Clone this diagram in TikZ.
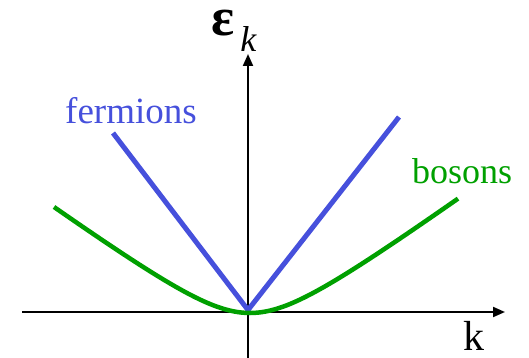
\documentclass[tikz,border=0pt]{standalone}
\usepackage{fontspec}
\setmainfont{Liberation Serif}
\usetikzlibrary{arrows.meta}

\definecolor{fermblue}{RGB}{70,80,220}
\definecolor{bosgreen}{RGB}{0,160,0}

\begin{document}
\begin{tikzpicture}[x=1pt, y=-1pt,
  >={Triangle[length=12pt,width=10pt]},
  axis/.style={->, line width=2pt},
  ferm/.style={line width=5pt, fermblue, line join=round},
  bos/.style={line width=4.5pt, bosgreen},
  lbl/.style={anchor=base west, inner sep=0pt},
]
  \useasboundingbox (0,0) rectangle (529,358);
  % axes
  \coordinate (o) at (248,312);
  \coordinate (xl) at (22,312);
  \coordinate (xr) at (505,312);
  \coordinate (yb) at (248,358);
  \coordinate (yt) at (248,54);
  \draw[axis] (xl) -- (xr);
  \draw[axis] (yb) -- (yt);
  % fermions: linear
  \coordinate (fl) at (113,133);
  \coordinate (fv) at (248,310);
  \coordinate (fr) at (399,117);
  \draw[ferm] (fl) -- (fv) -- (fr);
  % bosons: quadratic at small k, linear at large k
  \draw[bos] plot[domain=-196:208, samples=100]
    ({250+\x}, {313-42*(sqrt(1+(\x/58)^2)-1)});
  % labels
  \node[lbl, fermblue, font=\fontsize{37}{37}\selectfont] (fermlbl) at (65,124) {fermions};
  \node[lbl, bosgreen, font=\fontsize{36}{36}\selectfont] (boslbl) at (412,183) {bosons};
  \node[lbl, font=\fontsize{42}{42}\selectfont] (klbl) at (463,350) {k};
  \node[lbl, font=\fontsize{54}{54}\selectfont] (epslbl) at (211,36)
    {\textbf{ε}\hspace{6pt}\raisebox{-16pt}{\fontsize{36}{36}\selectfont\itshape k}};
\end{tikzpicture}
\end{document}
